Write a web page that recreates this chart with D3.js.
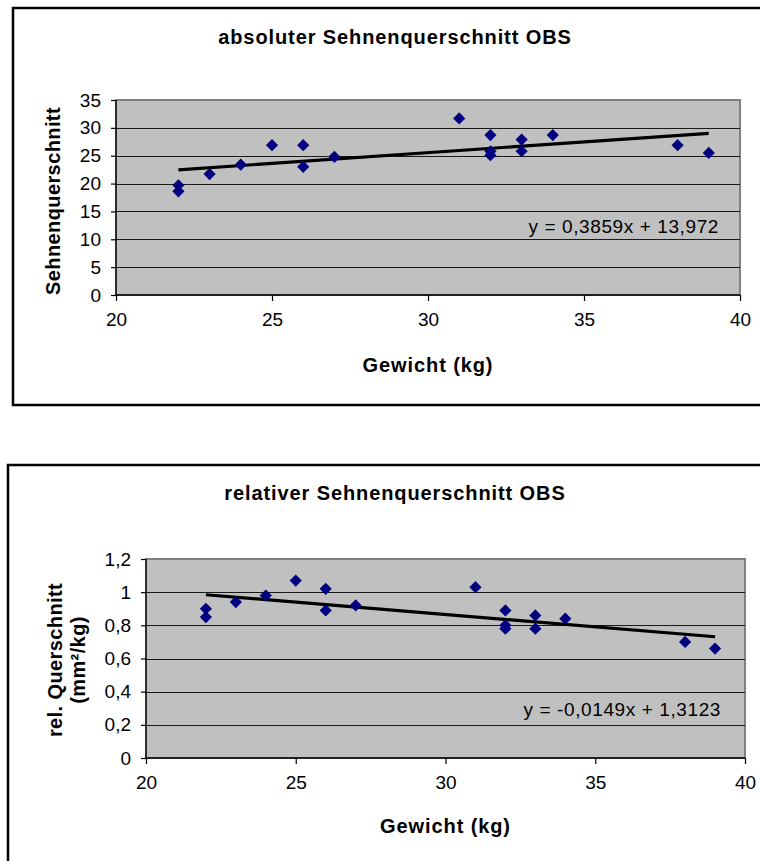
<!DOCTYPE html>
<html>
<head>
<meta charset="utf-8">
<script src="https://cdn.jsdelivr.net/npm/d3@7"></script>
<style>
  html, body { margin: 0; padding: 0; background: #fff; overflow: hidden; }
  svg { display: block; font-family: "Liberation Sans", Arial, sans-serif; }
</style>
</head>
<body>
<svg id="chart" width="760" height="861"></svg>
<script>
// Body weight of each animal (kg)
const weights = [22, 22, 23, 24, 25, 26, 26, 27, 31, 32, 32, 32, 33, 33, 34, 38, 39];
// Absolute tendon cross-section
const absoluteArea = [19.7, 18.6, 21.7, 23.4, 26.9, 26.9, 23.0, 24.8, 31.7, 28.7, 25.8, 25.1, 27.9, 25.8, 28.7, 26.9, 25.5];
// Relative cross-section (mm²/kg)
const relativeArea = [0.90, 0.85, 0.94, 0.98, 1.07, 1.02, 0.89, 0.92, 1.03, 0.89, 0.80, 0.78, 0.86, 0.78, 0.84, 0.70, 0.66];

// Linear trend lines: [slope, intercept]
const absoluteTrend = [0.3859, 13.972];
const relativeTrend = [-0.0149, 1.3123];

const xTicks = [20, 25, 30, 35, 40];
const absoluteTicks = [0, 5, 10, 15, 20, 25, 30, 35];
const relativeTicks = [0, 0.2, 0.4, 0.6, 0.8, 1, 1.2];

const svg = d3.select("#chart");
const fmt = v => String(v).replace(".", ",");

function drawChart(o) {
  const g = svg.append("g");

  // chart frame
  g.append("rect")
    .attr("x", o.frame[0]).attr("y", o.frame[1])
    .attr("width", o.frame[2]).attr("height", o.frame[3])
    .attr("fill", "#fff").attr("stroke", "#000").attr("stroke-width", 2.5);

  const x = d3.scaleLinear().domain([20, 40]).range([o.plot.left, o.plot.right]);
  const y = d3.scaleLinear().domain(o.yDomain).range([o.plot.bottom, o.plot.top]);

  // plot area
  g.append("rect")
    .attr("x", o.plot.left).attr("y", o.plot.top)
    .attr("width", o.plot.right - o.plot.left).attr("height", o.plot.bottom - o.plot.top)
    .attr("fill", "#c0c0c0").attr("stroke", "#808080").attr("stroke-width", 2);

  // horizontal gridlines
  g.append("g").selectAll("line")
    .data(o.yTicks.filter(t => t > o.yDomain[0] && t < o.yDomain[1]))
    .join("line")
    .attr("x1", o.plot.left).attr("x2", o.plot.right)
    .attr("y1", d => Math.round(y(d)) + 0.5).attr("y2", d => Math.round(y(d)) + 0.5)
    .attr("stroke", "#1a1a1a").attr("stroke-width", 1);

  // axes
  const xAxis = g.append("g")
    .attr("transform", `translate(0,${o.plot.bottom})`)
    .call(d3.axisBottom(x).tickValues(xTicks).tickSize(6).tickPadding(12).tickFormat(fmt));
  const yAxis = g.append("g")
    .attr("transform", `translate(${o.plot.left},0)`)
    .call(d3.axisLeft(y).tickValues(o.yTicks).tickSize(5).tickPadding(10).tickFormat(fmt));
  [xAxis, yAxis].forEach(a => {
    a.select(".domain").attr("stroke", "#000").attr("stroke-width", 1.3);
    a.selectAll(".tick line").attr("stroke", "#000").attr("stroke-width", 1.2);
    a.selectAll(".tick text")
      .attr("fill", "#000")
      .style("font-size", "19px")
      .style("font-family", "'Liberation Sans', Arial, sans-serif");
  });
  xAxis.select(".domain").attr("d", `M${o.plot.left},0H${o.plot.right}`);
  yAxis.select(".domain").attr("d", `M0,${o.plot.top}V${o.plot.bottom}`);

  // trend line over the observed weight range
  const [m, b] = o.trend;
  const xr = d3.extent(weights);
  g.append("line")
    .attr("x1", x(xr[0])).attr("y1", y(m * xr[0] + b))
    .attr("x2", x(xr[1])).attr("y2", y(m * xr[1] + b))
    .attr("stroke", "#000").attr("stroke-width", 3.2);

  // data points (diamonds)
  const diamond = d3.symbol().type(d3.symbolDiamond2).size(95);
  g.append("g").selectAll("path")
    .data(weights.map((w, i) => [w, o.values[i]]))
    .join("path")
    .attr("d", diamond)
    .attr("transform", d => `translate(${x(d[0])},${y(d[1])})`)
    .attr("fill", "#000080");

  // trend equation
  g.append("text")
    .attr("x", o.eqPos[0]).attr("y", o.eqPos[1])
    .attr("text-anchor", "end")
    .style("font-size", "19px").style("letter-spacing", "0.6px")
    .text(o.equation);

  // chart title
  g.append("text")
    .attr("x", o.titlePos[0]).attr("y", o.titlePos[1])
    .attr("text-anchor", "middle")
    .style("font-size", "20px").style("font-weight", "bold").style("letter-spacing", "0.9px")
    .text(o.title);

  // x axis title
  g.append("text")
    .attr("x", (o.plot.left + o.plot.right) / 2).attr("y", o.xTitleY)
    .attr("text-anchor", "middle")
    .style("font-size", "20px").style("font-weight", "bold").style("letter-spacing", "0.9px")
    .text("Gewicht (kg)");

  // y axis title (one or two lines)
  o.yTitle.forEach((line, i) => {
    g.append("text")
      .attr("transform", `translate(${o.yTitleX[i]},${o.yTitleY}) rotate(-90)`)
      .attr("text-anchor", "middle")
      .style("font-size", "20px").style("font-weight", "bold").style("letter-spacing", "0.4px")
      .text(line);
  });
}

drawChart({
  frame: [13, 8, 770, 397],
  plot: { left: 116, right: 740, top: 100, bottom: 295 },
  yDomain: [0, 35],
  yTicks: absoluteTicks,
  values: absoluteArea,
  trend: absoluteTrend,
  equation: "y = 0,3859x + 13,972",
  eqPos: [719, 233],
  title: "absoluter Sehnenquerschnitt OBS",
  titlePos: [395, 44],
  xTitleY: 372,
  yTitle: ["Sehnenquerschnitt"],
  yTitleX: [60],
  yTitleY: 201
});

drawChart({
  frame: [8, 465, 770, 420],
  plot: { left: 146, right: 745, top: 559, bottom: 758 },
  yDomain: [0, 1.2],
  yTicks: relativeTicks,
  values: relativeArea,
  trend: relativeTrend,
  equation: "y = -0,0149x + 1,3123",
  eqPos: [721, 716],
  title: "relativer Sehnenquerschnitt OBS",
  titlePos: [395, 500],
  xTitleY: 833,
  yTitle: ["rel. Querschnitt", "(mm²/kg)"],
  yTitleX: [62, 85],
  yTitleY: 660
});
</script>
</body>
</html>
